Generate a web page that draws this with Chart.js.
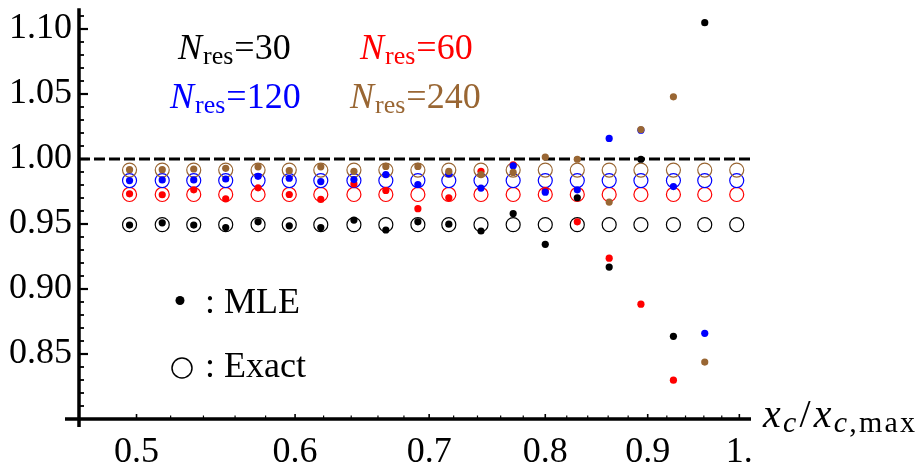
<!DOCTYPE html>
<html>
<head>
<meta charset="utf-8">
<script src="https://cdn.jsdelivr.net/npm/chart.js@4.4.1/dist/chart.umd.min.js"></script>
<style>
  html, body { margin: 0; padding: 0; background: #fff; }
  #wrap { width: 918px; height: 469px; position: relative; }
</style>
</head>
<body>
<div id="wrap"><canvas id="chart" width="918" height="469"></canvas></div>
<script>
// ---------- data ----------
const xc = [0.496, 0.515, 0.534, 0.554, 0.575, 0.596, 0.618, 0.642, 0.666, 0.691,
            0.716, 0.743, 0.771, 0.800, 0.830, 0.861, 0.893, 0.927, 0.961, 0.997];

// MLE estimates
const mle30  = [0.9492, 0.9509, 0.9492, 0.9473, 0.9517, 0.9486, 0.9473, 0.9530, 0.9454, 0.9517,
                0.9499, 0.9446, 0.9580, 0.9344, 0.9702, 0.9169, 0.9998, 0.8636, 1.1049, null];
const mle60  = [0.9732, 0.9725, 0.9763, 0.9694, 0.9778, 0.9727, 0.9689, 0.9808, 0.9758, 0.9618,
                0.9702, 0.9905, 0.9955, 0.9758, 0.9517, 0.9237, 0.8883, 0.8299, null, null];
const mle120 = [0.9834, 0.9839, 0.9839, 0.9846, 0.9867, 0.9852, 0.9826, 0.9842, 0.9880, 0.9804,
                0.9885, 0.9776, 0.9948, 0.9745, 0.9763, 1.0158, 1.0222, 0.9788, 0.8659, null];
const mle240 = [0.9918, 0.9918, 0.9923, 0.9928, 0.9940, 0.9910, 0.9940, 0.9905, 0.9943, 0.9943,
                0.9905, 0.9880, 0.9897, 1.0015, 0.9998, 0.9669, 1.0227, 1.0478, 0.8438, null];

// exact values
const exact30  = [0.9495, 0.9495, 0.9495, 0.9495, 0.9495, 0.9495, 0.9495, 0.9495, 0.9495, 0.9495,
                  0.9495, 0.9495, 0.9495, 0.9495, 0.9495, 0.9495, 0.9495, 0.9495, 0.9495, 0.9495];
const exact60  = [0.9727, 0.9727, 0.9727, 0.9727, 0.9727, 0.9727, 0.9727, 0.9727, 0.9727, 0.9727,
                  0.9727, 0.9727, 0.9727, 0.9727, 0.9727, 0.9727, 0.9727, 0.9727, 0.9727, 0.9727];
const exact120 = [0.9834, 0.9834, 0.9834, 0.9834, 0.9834, 0.9834, 0.9834, 0.9834, 0.9834, 0.9834,
                  0.9834, 0.9834, 0.9834, 0.9834, 0.9834, 0.9834, 0.9834, 0.9834, 0.9834, 0.9834];
const exact240 = [0.9915, 0.9915, 0.9915, 0.9915, 0.9915, 0.9915, 0.9915, 0.9915, 0.9915, 0.9915,
                  0.9915, 0.9915, 0.9915, 0.9915, 0.9915, 0.9915, 0.9915, 0.9915, 0.9915, 0.9915];

const xTickVals = [0.5, 0.6, 0.7, 0.8, 0.9, 1.0];
const xTickLabels = ["0.5", "0.6", "0.7", "0.8", "0.9", "1."];
const yTickVals = [0.85, 0.90, 0.95, 1.00, 1.05, 1.10];
const yTickLabels = ["0.85", "0.90", "0.95", "1.00", "1.05", "1.10"];
const refLevel = 1.0;

const xMin = 0.468, xMax = 1.0135;
const yMin = 0.80, yMax = 1.116;

// ---------- colours ----------
const BLACK = "#000000", RED = "#ff0000", BLUE = "#0000ff", BROWN = "#996633";
const SERIF = "'Liberation Serif', 'DejaVu Serif', serif";

const pts = arr => xc.map((x, i) => ({ x: x, y: arr[i] }));

function mleSet(arr, color, order) {
  return { type: "scatter", data: pts(arr), pointStyle: "circle", pointRadius: 3.6,
           backgroundColor: color, borderWidth: 0, order: order };
}
function exactSet(arr, color, order) {
  return { type: "scatter", data: pts(arr), pointStyle: "circle", pointRadius: 7,
           backgroundColor: "rgba(0,0,0,0)", borderColor: color, borderWidth: 1.2, order: order };
}

// ---------- Mathematica-like axes ----------
const axesPlugin = {
  id: "mmaAxes",
  afterDraw(chart) {
    const ctx = chart.ctx;
    const xs = chart.scales.x, ys = chart.scales.y;
    const x0 = chart.chartArea.left, y0 = chart.chartArea.bottom;
    ctx.save();
    ctx.strokeStyle = "#000";
    ctx.lineCap = "butt";

    // axis lines
    ctx.lineWidth = 3.5;
    ctx.beginPath();
    ctx.moveTo(x0, chart.chartArea.top);
    ctx.lineTo(x0, y0 + 8);
    ctx.moveTo(x0 - 14, y0);
    ctx.lineTo(chart.chartArea.right, y0);
    ctx.stroke();

    // y ticks
    for (let k = 81; k <= 111; k++) {
      const v = k / 100;
      const major = k % 5 === 0;
      const py = ys.getPixelForValue(v);
      ctx.lineWidth = major ? 2.2 : 1.8;
      ctx.beginPath();
      ctx.moveTo(x0, py);
      ctx.lineTo(x0 + (major ? 9 : 5), py);
      ctx.stroke();
    }
    // x ticks
    for (let k = 50; k <= 100; k += 2) {
      const v = k / 100;
      const major = k % 10 === 0;
      const px = xs.getPixelForValue(v);
      ctx.lineWidth = major ? 1.6 : 1.2;
      ctx.beginPath();
      ctx.moveTo(px, y0);
      ctx.lineTo(px, y0 - (major ? 5 : 3.5));
      ctx.stroke();
    }
    ctx.restore();

    drawLabels(chart);
  }
};

function drawRich(ctx, x, y, runs, spacing) {
  let cx = x;
  if ("letterSpacing" in ctx) ctx.letterSpacing = (spacing || 0) + "px";
  runs.forEach(r => {
    ctx.font = r.font;
    ctx.fillStyle = r.color;
    ctx.fillText(r.t, cx, y + (r.dy || 0));
    cx += ctx.measureText(r.t).width + (r.gap || 0);
  });
  if ("letterSpacing" in ctx) ctx.letterSpacing = "0px";
}

function nres(ctx, x, y, num, color) {
  drawRich(ctx, x, y, [
    { t: "N", font: "italic 36px " + SERIF, color: color, gap: 1 },
    { t: "res", font: "26px " + SERIF, color: color, dy: 5, gap: 1 },
    { t: "=" + num, font: "36px " + SERIF, color: color }
  ]);
}

function drawLabels(chart) {
  const ctx = chart.ctx;
  ctx.save();
  ctx.textBaseline = "alphabetic";
  ctx.textAlign = "left";

  nres(ctx, 178, 59, "30", BLACK);
  nres(ctx, 360, 59, "60", RED);
  nres(ctx, 170, 108, "120", BLUE);
  nres(ctx, 350, 108, "240", BROWN);

  // marker legend
  ctx.fillStyle = "#000";
  ctx.beginPath();
  ctx.arc(180, 300.5, 4.5, 0, Math.PI * 2);
  ctx.fill();
  ctx.strokeStyle = "#000";
  ctx.lineWidth = 1.5;
  ctx.beginPath();
  ctx.arc(182, 368, 10, 0, Math.PI * 2);
  ctx.stroke();
  ctx.font = "36px " + SERIF;
  ctx.fillText(": MLE", 205, 312.5);
  ctx.fillText(": Exact", 205, 376.5);

  // axis title
  drawRich(ctx, 763, 426.5, [
    { t: "x", font: "italic 40px " + SERIF, color: "#000" },
    { t: "c", font: "italic 30px " + SERIF, color: "#000", dy: 5, gap: 1 },
    { t: "/", font: "40px " + SERIF, color: "#000", gap: 1 },
    { t: "x", font: "italic 40px " + SERIF, color: "#000" },
    { t: "c", font: "italic 30px " + SERIF, color: "#000", dy: 5 },
    { t: ",max", font: "30px " + SERIF, color: "#000", dy: 5 }
  ], 2.2);
  ctx.restore();
}

// ---------- chart ----------
const ctx = document.getElementById("chart").getContext("2d");
new Chart(ctx, {
  type: "scatter",
  data: {
    datasets: [
      mleSet(mle240, BROWN, 1),
      mleSet(mle120, BLUE, 2),
      mleSet(mle60, RED, 3),
      mleSet(mle30, BLACK, 4),
      exactSet(exact240, BROWN, 5),
      exactSet(exact120, BLUE, 6),
      exactSet(exact60, RED, 7),
      exactSet(exact30, BLACK, 8),
      { type: "line", data: [{ x: xMin, y: refLevel }, { x: xMax, y: refLevel }],
        borderColor: "#000", borderWidth: 3, borderDash: [11, 4], pointRadius: 0,
        fill: false, order: 9 }
    ]
  },
  options: {
    responsive: false,
    animation: false,
    devicePixelRatio: 1,
    layout: { padding: { top: 4, right: 167, left: 0, bottom: 0 } },
    plugins: { legend: { display: false }, tooltip: { enabled: false } },
    scales: {
      x: {
        type: "logarithmic",
        min: xMin, max: xMax,
        grid: { display: false, drawTicks: false },
        border: { display: false },
        afterBuildTicks: s => { s.ticks = xTickVals.map(v => ({ value: v })); },
        afterFit: s => { s.height = 50; s.paddingLeft = 0; s.paddingRight = 0; },
        ticks: {
          autoSkip: false, maxRotation: 0, padding: 12, color: "#000",
          font: { family: SERIF, size: 36 },
          callback: (v, i) => xTickLabels[i]
        }
      },
      y: {
        type: "linear",
        min: yMin, max: yMax,
        grid: { display: false, drawTicks: false },
        border: { display: false },
        afterBuildTicks: s => { s.ticks = yTickVals.map(v => ({ value: v })); },
        afterFit: s => { s.width = 79; s.paddingTop = 0; s.paddingBottom = 0; },
        ticks: {
          autoSkip: false, padding: 7, color: "#000",
          font: { family: SERIF, size: 36 },
          callback: (v, i) => yTickLabels[i]
        }
      }
    }
  },
  plugins: [axesPlugin]
});
</script>
</body>
</html>
